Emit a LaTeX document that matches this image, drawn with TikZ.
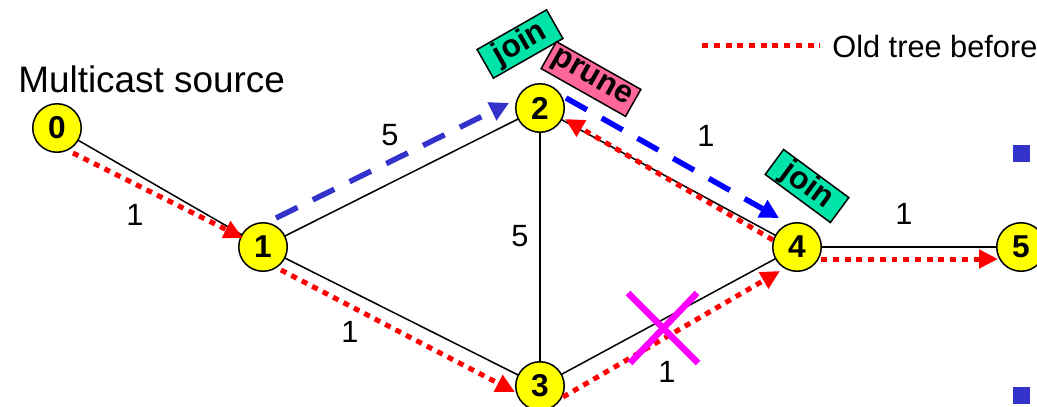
\documentclass[tikz,border=0pt]{standalone}
\usepackage{fontspec}
\setmainfont{Liberation Sans}
\usetikzlibrary{arrows.meta}
\definecolor{nodeyellow}{RGB}{255,255,0}
\definecolor{joingreen}{RGB}{0,228,170}
\definecolor{prunepink}{RGB}{255,102,153}
\definecolor{blueA}{RGB}{51,51,204}
\definecolor{blueB}{RGB}{0,0,255}
\definecolor{magentaX}{RGB}{255,0,255}
\tikzset{
  netnode/.style={circle, draw=black, line width=0.03cm, fill=nodeyellow, minimum size=0.97cm, inner sep=0pt, font=\fontsize{18}{20}\selectfont\bfseries},
  edge/.style={draw=black, line width=0.03cm},
  elabel/.style={font=\fontsize{17.5}{20}\selectfont, inner sep=0pt},
  oldtree/.style={draw=red, line width=0.1cm, dash pattern=on 0.12cm off 0.115cm},
  oldarrow/.style={oldtree, -{Triangle[length=0.38cm, width=0.36cm]}},
  newtreeA/.style={draw=blueA, line width=0.11cm, dash pattern=on 0.48cm off 0.34cm, -{Triangle[length=0.38cm, width=0.38cm]}},
  newtreeB/.style={draw=blueB, line width=0.11cm, dash pattern=on 0.48cm off 0.34cm, -{Triangle[length=0.38cm, width=0.38cm]}},
  msgbox/.style={draw=black, line width=0.03cm, inner sep=0pt, font=\fontsize{18}{20}\selectfont\bfseries},
  bullet/.style={fill=blueA, draw=none, minimum size=0.34cm, inner sep=0pt},
}
\begin{document}
\begin{tikzpicture}[x=0.02cm, y=-0.02cm]
\useasboundingbox (0,0) rectangle (1037,406);
\clip (0,0) rectangle (1037,406);

% node positions
\coordinate (p0) at (57,128);
\coordinate (p1) at (263,247);
\coordinate (p2) at (540,108);
\coordinate (p3) at (540,386);
\coordinate (p4) at (797,247);
\coordinate (p5) at (1021,247);

% edges (drawn under the nodes)
\draw[edge] (p0) -- (p1);
\draw[edge] (p1) -- (p2);
\draw[edge] (p1) -- (p3);
\draw[edge] (p2) -- (p3);
\draw[edge] (p2) -- (p4);
\draw[edge] (p3) -- (p4);
\draw[edge] (p4) -- (p5);

% nodes
\node[netnode] (n0) at (p0) {0};
\node[netnode] (n1) at (p1) {1};
\node[netnode] (n2) at (p2) {2};
\node[netnode] (n3) at (p3) {3};
\node[netnode] (n4) at (p4) {4};
\node[netnode] (n5) at (p5) {5};

% edge labels
\node[elabel] (l01) at (135,215) {1};
\node[elabel] (l12) at (390,135) {5};
\node[elabel] (l13) at (350,332) {1};
\node[elabel] (l23) at (520,236) {5};
\node[elabel] (l24) at (706,136) {1};
\node[elabel] (l34) at (667,372) {1};
\node[elabel] (l45) at (904,214) {1};

% old tree (red dotted) arrows
\coordinate (r01s) at (73,153);  \coordinate (r01e) at (243,238);
\coordinate (r13s) at (281,270); \coordinate (r13e) at (515,392);
\coordinate (r34s) at (563,397); \coordinate (r34e) at (780,271);
\coordinate (r42s) at (773,240); \coordinate (r42e) at (565,119);
\coordinate (r45s) at (821,259); \coordinate (r45e) at (998,259);
\draw[oldarrow] (r01s) -- (r01e);
\draw[oldarrow] (r13s) -- (r13e);
\draw[oldarrow] (r34s) -- (r34e);
\draw[oldarrow] (r42s) -- (r42e);
\draw[oldarrow] (r45s) -- (r45e);

% new tree (blue dashed) arrows
\coordinate (b12s) at (276,218); \coordinate (b12e) at (509,103);
\coordinate (b24s) at (566,98);  \coordinate (b24e) at (779,218);
\draw[newtreeA] (b12s) -- (b12e);
\draw[newtreeB] (b24s) -- (b24e);

% messages
\node[msgbox, fill=joingreen, minimum width=1.6cm, minimum height=0.66cm, rotate=29.7] (join1) at (520,44) {join};
\node[msgbox, fill=prunepink, minimum width=1.94cm, minimum height=0.62cm, rotate=-29.5] (prune) at (591,79) {prune};
\node[msgbox, fill=joingreen, minimum width=1.62cm, minimum height=0.62cm, rotate=-36.4] (join2) at (807,186) {join};

% broken link
\draw[magentaX, line width=0.13cm] (628,293) -- (698,363);
\draw[magentaX, line width=0.13cm] (697,293) -- (630,363);

% source label
\node[anchor=base west, inner sep=0pt, font=\fontsize{21}{25}\selectfont] (src) at (18,92) {Multicast source};

% legend
\coordinate (lg1) at (702,45); \coordinate (lg2) at (820,45);
\draw[oldtree] (lg1) -- (lg2);
\node[anchor=base west, inner sep=0pt, font=\fontsize{17.5}{20}\selectfont] (lgt) at (832,57) {Old tree before};

% bullets
\node[bullet] (bu1) at (1021.5,153.5) {};
\node[bullet] (bu2) at (1021.5,395.5) {};
\end{tikzpicture}
\end{document}
